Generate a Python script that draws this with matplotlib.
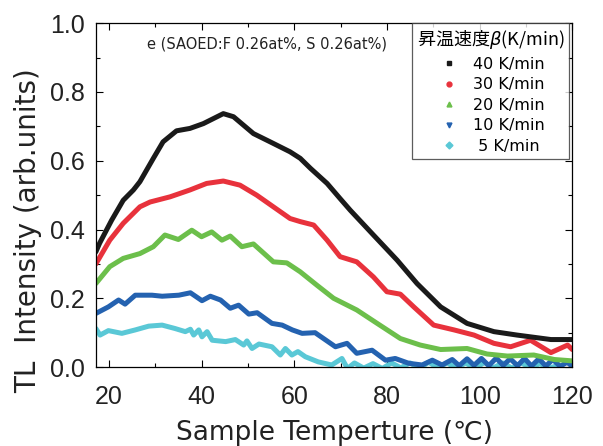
import numpy as np
import matplotlib.pyplot as plt
from matplotlib.lines import Line2D
from matplotlib.ticker import MultipleLocator

# Read-off data: temperature (C) and TL intensity for each heating rate
t40 = [17.2, 18.0, 20.6, 23.1, 25.3, 26.7, 29.6, 31.7, 34.6, 37.5, 40.4, 44.7, 46.9,
       51.2, 54.8, 59.1, 61.3, 63.5, 67.1, 69.9, 72.1, 77.1, 82.2, 86.5, 91.6, 97.3,
       103.1, 108.1, 115.4, 120.0]
i40 = [0.335, 0.36, 0.427, 0.485, 0.515, 0.539, 0.607, 0.655, 0.687, 0.694, 0.708, 0.737, 0.728,
       0.679, 0.655, 0.626, 0.607, 0.578, 0.534, 0.49, 0.456, 0.384, 0.311, 0.243, 0.175, 0.127,
       0.103, 0.093, 0.08, 0.08]

t30 = [17.2, 20.2, 23.1, 26.7, 28.9, 33.2, 37.5, 41.1, 44.7, 48.3, 51.9, 55.5, 59.1,
       61.3, 64.2, 67.1, 69.9, 73.5, 77.1, 80.0, 82.9, 85.8, 90.1, 94.5, 98.8, 103.1,
       106.7, 111.0, 115.4, 119.0, 120.0]
i30 = [0.30, 0.369, 0.418, 0.466, 0.48, 0.495, 0.515, 0.534, 0.541, 0.529, 0.50, 0.466, 0.432,
       0.423, 0.413, 0.369, 0.321, 0.306, 0.262, 0.219, 0.212, 0.175, 0.122, 0.108, 0.093, 0.069,
       0.059, 0.078, 0.042, 0.064, 0.051]

t20 = [17.2, 20.2, 23.1, 26.7, 29.6, 32.1, 35.0, 37.9, 40.0, 42.2, 44.4, 46.2, 48.7,
       51.2, 55.5, 58.4, 61.3, 64.9, 68.5, 73.5, 77.9, 82.9, 87.2, 91.6, 97.3, 101.6,
       106.0, 111.7, 116.1, 120.0]
i20 = [0.243, 0.292, 0.316, 0.33, 0.35, 0.384, 0.371, 0.398, 0.379, 0.393, 0.369, 0.381, 0.35,
       0.358, 0.306, 0.303, 0.277, 0.238, 0.20, 0.166, 0.127, 0.083, 0.064, 0.051, 0.054, 0.038,
       0.032, 0.035, 0.022, 0.018]

t10 = [17.2, 19.9, 22.1, 23.5, 25.7, 29.3, 31.5, 35.1, 37.6, 40.1, 41.9, 44.1, 46.2,
       48.0, 50.2, 52.0, 55.2, 57.4, 59.6, 61.7, 64.5, 68.9, 71.4, 73.5, 76.8, 79.7,
       81.8, 84.7, 87.6, 89.8, 91.9, 94.1, 95.6, 97.3, 98.8, 100.4, 102.0, 103.6, 105.1,
       106.6, 108.2, 109.7, 111.2, 112.8, 114.3, 115.8, 117.4, 118.9, 120.0]
i10 = [0.156, 0.175, 0.195, 0.183, 0.209, 0.209, 0.206, 0.209, 0.216, 0.193, 0.206, 0.195, 0.171,
       0.18, 0.154, 0.158, 0.127, 0.122, 0.108, 0.098, 0.10, 0.059, 0.069, 0.04, 0.049, 0.02,
       0.025, 0.011, 0.006, 0.02, 0.006, 0.022, 0.004, 0.024, 0.005, 0.025, 0.004, 0.026, 0.005,
       0.024, 0.004, 0.025, 0.003, 0.024, 0.003, 0.022, 0.002, 0.014, 0.002]

t5 = [17.2, 18.1, 19.9, 22.8, 25.7, 28.6, 31.5, 34.3, 36.5, 37.6, 38.3, 39.4, 40.1,
      41.2, 42.3, 45.2, 47.3, 49.1, 49.8, 50.9, 52.4, 55.2, 57.0, 58.1, 59.5, 60.8,
      62.4, 65.2, 68.1, 70.3, 71.5, 73.0, 75.0, 77.0, 79.0, 81.0, 83.0, 85.0, 87.0,
      89.0, 91.0, 93.0, 95.0, 97.0, 99.0, 101.0, 103.0, 105.0, 107.0, 109.0, 111.0,
      113.0, 115.0, 117.0]
i5 = [0.112, 0.093, 0.106, 0.098, 0.108, 0.119, 0.122, 0.112, 0.103, 0.11, 0.093, 0.108, 0.088,
      0.103, 0.078, 0.074, 0.08, 0.064, 0.076, 0.054, 0.067, 0.059, 0.035, 0.054, 0.035, 0.045,
      0.03, 0.015, 0.006, 0.025, -0.004, 0.012, -0.003, 0.01, -0.004, 0.012, -0.002, 0.012, -0.004,
      0.014, -0.002, 0.012, -0.003, 0.012, -0.004, 0.013, -0.002, 0.012, -0.003, 0.012, -0.002,
      0.01, -0.003, 0.005]

series = [(t40, i40, '#1a1a1a', 's', '40 K/min'),
          (t30, i30, '#e8323c', 'o', '30 K/min'),
          (t20, i20, '#6cbf4b', '^', '20 K/min'),
          (t10, i10, '#2462b0', 'v', '10 K/min'),
          (t5, i5, '#5ac8d6', 'D', ' 5 K/min')]

tickfont = ['Liberation Sans', 'DejaVu Sans']
labfont = ['DejaVu Sans', 'Noto Sans CJK JP']
jpfont = ['Noto Sans CJK JP', 'DejaVu Sans']

fig = plt.figure(figsize=(6.03, 4.46), dpi=100)
ax = fig.add_axes([0.159, 0.177, 0.79, 0.771])

# draw lower-rate curves first so black sits on top
for t, v, c, m, lab in series[::-1]:
    ax.plot(t, v, color=c, lw=3.6, solid_joinstyle='round', solid_capstyle='round')

ax.set_xlim(17.2, 120)
ax.set_ylim(0, 1.0)
ax.xaxis.set_major_locator(MultipleLocator(20))
ax.xaxis.set_minor_locator(MultipleLocator(10))
ax.yaxis.set_major_locator(MultipleLocator(0.2))
ax.yaxis.set_minor_locator(MultipleLocator(0.1))
ax.set_yticklabels(['%.1f' % v for v in ax.get_yticks()])
ax.tick_params(which='both', direction='in', top=True, right=True, width=0.8)
ax.tick_params(which='major', length=5, labelsize=18)
ax.tick_params(axis='x', which='major', pad=13)
ax.tick_params(axis='y', which='major', pad=8)
ax.tick_params(which='minor', length=3)
for lbl in ax.get_xticklabels() + ax.get_yticklabels():
    lbl.set_family(tickfont)
    lbl.set_color('#222222')
for s in ax.spines.values():
    s.set_linewidth(0.9)

ax.set_xlabel('Sample Temperture (℃)', fontsize=19, family=labfont, color='#222222', labelpad=8)
ax.set_ylabel('TL  Intensity (arb.units)', fontsize=20, family=labfont, color='#222222')
ax.yaxis.set_label_coords(-0.113, 0.398)

ax.text(0.36, 0.94, 'e (SAOED:F 0.26at%, S 0.26at%)', transform=ax.transAxes,
        ha='center', va='center', fontsize=10.5, family=labfont, color='#222222')

handles = [Line2D([], [], ls='none', marker=m, color=c, markersize=3.5)
           for t, v, c, m, lab in series]
labels = [s[4] for s in series]
leg = ax.legend(handles, labels, loc='upper right', bbox_to_anchor=(0.9937, 1.0),
                title='昇温速度$\\beta$(K/min)',
                prop={'family': labfont, 'size': 11.5},
                title_fontproperties={'family': jpfont, 'size': 13},
                frameon=True, fancybox=False, edgecolor='#333333', borderaxespad=0.0,
                handlelength=1.6, handletextpad=0.7, labelspacing=0.35, borderpad=0.3)
leg.get_frame().set_linewidth(0.9)

fig.savefig('out.png', dpi=100)
